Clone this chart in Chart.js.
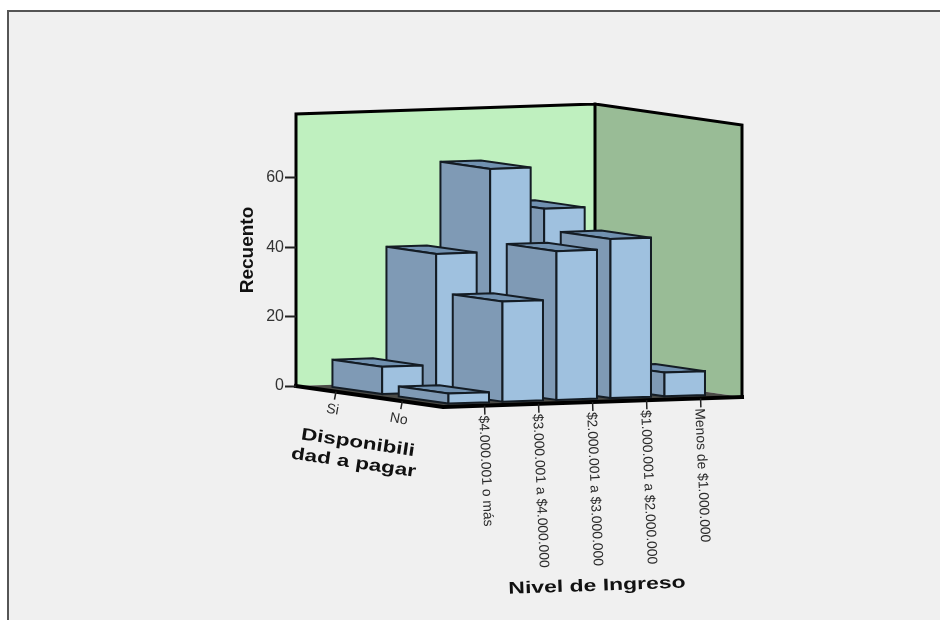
<!DOCTYPE html>
<html>
<head>
<meta charset="utf-8">
<title>Recuento por Nivel de Ingreso</title>
<script src="https://cdn.jsdelivr.net/npm/chart.js@4/dist/chart.umd.min.js"></script>
<style>
	html, body { margin: 0; padding: 0; background: #fff; }
	canvas { display: block; }
</style>
</head>
<body>
<canvas id="barChart3d" width="940" height="620"></canvas>
<script>
// =================== DATA ===================
const incomeLabels = [
	"$4.000.001 o más",
	"$3.000.001 a $4.000.000",
	"$2.000.001 a $3.000.000",
	"$1.000.001 a $2.000.000",
	"Menos de $1.000.000",
];
const payLabels = ["Si", "No"];
const siValues = [8, 40, 64, 52, 12];
const noValues = [3, 29, 43, 46, 7];
const yTicks = [0, 20, 40, 60];

// oblique projection: how far the depth axis and the income axis lean on screen
const DEPTH_DX = 147;
const DEPTH_DY = 21;
const SLOPE = -10 / 299;

const FONT = '"Liberation Sans", Arial, sans-serif';

// =================== UTILITY ===================
function project(chart, px, zf, py) {
	const left = chart.chartArea.left;
	return [px + zf * DEPTH_DX, py + (px - left) * SLOPE + zf * DEPTH_DY];
}

function depthFrac(chart, z) {
	const s = chart.scales.depth;
	return (s.getPixelForValue(z) - s.left) / s.width;
}

function poly(ctx, pts, fill, stroke, lw) {
	ctx.beginPath();
	pts.forEach((p, i) => (i ? ctx.lineTo(p[0], p[1]) : ctx.moveTo(p[0], p[1])));
	ctx.closePath();
	if (fill) {
		ctx.fillStyle = fill;
		ctx.fill();
	}
	if (stroke) {
		ctx.strokeStyle = stroke;
		ctx.lineWidth = lw;
		ctx.lineJoin = "miter";
		ctx.stroke();
	}
}

function text(ctx, str, x, y, angle, font, color, stretch = 1, align = "center") {
	ctx.save();
	ctx.translate(x, y);
	ctx.rotate((angle * Math.PI) / 180);
	ctx.scale(stretch, 1);
	ctx.font = font;
	ctx.fillStyle = color;
	ctx.textAlign = align;
	ctx.textBaseline = "middle";
	ctx.fillText(str, 0, 0);
	ctx.restore();
}

// =================== PLUGIN ===================
const box3d = {
	id: "box3d",
	beforeDraw(chart) {
		const { ctx, chartArea: a } = chart;
		// panel
		ctx.save();
		ctx.fillStyle = "#fff";
		ctx.fillRect(0, 0, chart.width, chart.height);
		ctx.fillStyle = "#f0f0f0";
		ctx.fillRect(8, 11, chart.width - 8, chart.height - 11);
		ctx.fillStyle = "#555";
		ctx.fillRect(8, 10, chart.width - 8, 2);
		ctx.fillRect(7, 10, 2, chart.height - 10);

		// floor and walls
		const bl = project(chart, a.left, 0, a.bottom);
		const br = project(chart, a.right, 0, a.bottom);
		const fl = project(chart, a.left, 1, a.bottom);
		const fr = project(chart, a.right, 1, a.bottom);
		const tl = project(chart, a.left, 0, a.top);
		const tr = project(chart, a.right, 0, a.top);
		const tf = project(chart, a.right, 1, a.top);
		poly(ctx, [tl, tr, br, bl], "#bff0bf");
		poly(ctx, [tr, tf, fr, br], "#99bc96");
		poly(ctx, [bl, br, fr, fl], "#4a4a46");

		ctx.strokeStyle = "#000";
		ctx.lineWidth = 3;
		ctx.lineCap = "square";
		ctx.beginPath();
		ctx.moveTo(...bl);
		ctx.lineTo(...tl);
		ctx.lineTo(...tr);
		ctx.lineTo(...tf);
		ctx.lineTo(...fr);
		ctx.moveTo(...tr);
		ctx.lineTo(...br);
		ctx.stroke();
		ctx.lineWidth = 4;
		ctx.beginPath();
		ctx.moveTo(...fr);
		ctx.lineTo(...fl);
		ctx.lineTo(...bl);
		ctx.stroke();
		ctx.restore();
	},
	afterDatasetsDraw(chart) {
		const { ctx, chartArea: a } = chart;
		const xs = chart.scales.x;
		const unit = xs.getPixelForValue(1) - xs.getPixelForValue(0);
		ctx.save();

		// back row first, far bars first
		[0, 1].forEach((z) => {
			const bars = chart.getDatasetMeta(z).data;
			for (let i = bars.length - 1; i >= 0; i--) {
				const bar = bars[i];
				const share = bar.width / unit;
				const z0 = depthFrac(chart, z - share / 2);
				const z1 = depthFrac(chart, z + share / 2);
				const x0 = bar.x - bar.width / 2;
				const x1 = bar.x + bar.width / 2;
				const c = (px, zf, py) => project(chart, px, zf, py);
				poly(ctx, [c(x0, z0, bar.y), c(x1, z0, bar.y), c(x1, z1, bar.y), c(x0, z1, bar.y)], "#7191b0", "#141c24", 2);
				poly(ctx, [c(x0, z0, bar.y), c(x0, z1, bar.y), c(x0, z1, bar.base), c(x0, z0, bar.base)], "#7f9ab5", "#141c24", 2);
				poly(ctx, [c(x0, z1, bar.y), c(x1, z1, bar.y), c(x1, z1, bar.base), c(x0, z1, bar.base)], "#9fc1df", "#141c24", 2);
			}
		});

		// income axis, along the front edge
		incomeLabels.forEach((label, i) => {
			const p = project(chart, xs.getPixelForValue(i), 1, a.bottom);
			ctx.strokeStyle = "#222";
			ctx.lineWidth = 1.5;
			ctx.beginPath();
			ctx.moveTo(p[0], p[1]);
			ctx.lineTo(p[0] + 0.3, p[1] + 9);
			ctx.stroke();
			text(ctx, label, p[0] - 1.5, p[1] + 10, 87.5, `14px ${FONT}`, "#2b2b2b", 0.99, "left");
		});

		// depth axis, along the left edge
		payLabels.forEach((label, z) => {
			const p = project(chart, a.left, depthFrac(chart, z), a.bottom);
			ctx.strokeStyle = "#222";
			ctx.lineWidth = 1.5;
			ctx.beginPath();
			ctx.moveTo(p[0], p[1]);
			ctx.lineTo(p[0] - 1.5, p[1] + 8);
			ctx.stroke();
			text(ctx, label, p[0] - 3.5, p[1] + 18, 10, `14px ${FONT}`, "#2b2b2b");
		});

		text(ctx, "Disponibili", 358, 443, 8.5, `bold 17px ${FONT}`, "#111", 1.32);
		text(ctx, "dad a pagar", 353.5, 463, 8.3, `bold 17px ${FONT}`, "#111", 1.32);
		text(ctx, "Nivel de Ingreso", 597, 586, -2, `bold 17px ${FONT}`, "#111", 1.35);
		ctx.restore();
	},
};

// =================== CHART ===================
new Chart(document.getElementById("barChart3d"), {
	type: "bar",
	data: {
		datasets: [
			{
				label: payLabels[0],
				data: siValues.map((y, x) => ({ x, y })),
				backgroundColor: "rgba(0,0,0,0)",
			},
			{
				label: payLabels[1],
				data: noValues.map((y, x) => ({ x, y })),
				backgroundColor: "rgba(0,0,0,0)",
			},
		],
	},
	plugins: [box3d],
	options: {
		responsive: false,
		animation: false,
		events: [],
		grouped: false,
		categoryPercentage: 1,
		barPercentage: 0.75,
		layout: { padding: { left: 232, right: 345, top: 114, bottom: 234 } },
		plugins: {
			legend: { display: false },
			tooltip: { enabled: false },
		},
		scales: {
			x: { type: "linear", display: false, offset: false, min: -0.77, max: 4.767 },
			depth: { type: "linear", axis: "x", display: false, offset: false, min: -0.603, max: 1.614 },
			y: {
				min: 0,
				max: 78.4,
				afterFit: (scale) => {
					scale.width = 64;
				},
				afterBuildTicks: (scale) => {
					scale.ticks = yTicks.map((value) => ({ value }));
				},
				border: { display: false },
				grid: {
					drawOnChartArea: false,
					tickLength: 11,
					tickWidth: 2,
					tickColor: "#222",
				},
				ticks: {
					padding: 1,
					color: "#333",
					font: { family: FONT, size: 16 },
				},
				title: {
					display: true,
					text: "Recuento",
					color: "#111",
					padding: { top: 4, bottom: 0 },
					font: { family: FONT, size: 19, weight: "bold" },
				},
			},
		},
	},
});
</script>
</body>
</html>
